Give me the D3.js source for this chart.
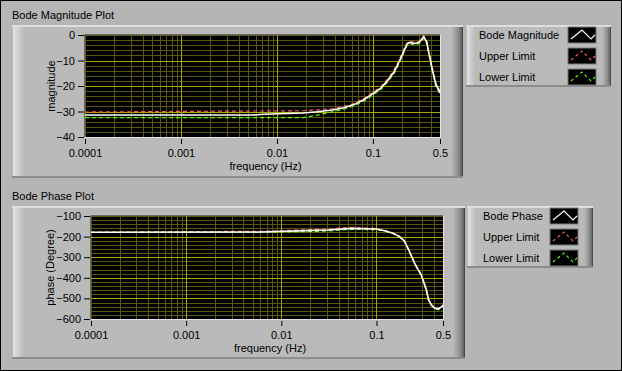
<!DOCTYPE html>
<html>
<head>
<meta charset="utf-8">
<script src="https://cdn.jsdelivr.net/npm/d3@7"></script>
<style>
  html, body { margin: 0; padding: 0; background: #b5b5b5; }
  svg { display: block; font-family: 'Liberation Sans', Arial, sans-serif; }
</style>
</head>
<body>
<svg id="chart" width="622" height="371"></svg>
<script>
// magnitude plot data (dB)
var magFreq  = [0.0001, 0.0056, 0.0072, 0.0188, 0.0264, 0.0379, 0.05, 0.0637, 0.081, 0.1, 0.121, 0.142, 0.167, 0.188, 0.209, 0.224, 0.239, 0.27, 0.304, 0.338, 0.363, 0.387, 0.42, 0.454, 0.492, 0.5]
var magBode  = [-31.4, -31.4, -31.1, -30.6, -30.1, -29.4, -28.5, -27.3, -25.3, -23.0, -20.8, -17.9, -14.3, -10.4, -6.5, -3.9, -2.9, -3.3, -2.9, -0.7, -2.7, -7.8, -14.3, -19.5, -22.0, -22.7]
var magUpper = [-30.2, -29.8, -29.8, -29.7, -29.4, -28.9, -28.0, -26.8, -24.8, -22.5, -20.2, -17.3, -13.6, -9.7, -5.8, -3.3, -2.4, -2.8, -2.4, -0.3, -2.2, -7.0, -13.5, -18.8, -21.3, -22.0]
var magLower = [-32.4, -32.4, -32.4, -32.4, -31.4, -30.1, -29.1, -27.8, -25.9, -23.5, -21.4, -18.5, -15.0, -11.0, -7.1, -4.5, -3.4, -3.8, -3.4, -1.2, -3.3, -8.5, -15.0, -20.2, -22.7, -23.5]

// phase plot data (degree)
var phaseFreq  = [0.0001, 0.0061, 0.0183, 0.0309, 0.0543, 0.0995, 0.122, 0.149, 0.175, 0.197, 0.222, 0.251, 0.274, 0.295, 0.333, 0.352, 0.376, 0.407, 0.449, 0.486, 0.5]
var phaseBode  = [-179, -178, -171, -168, -160, -163, -172, -184, -200, -222, -272, -329, -360, -386, -456, -505, -531, -547, -551, -540, -534]
var phaseUpper = [-179, -174, -167, -163, -155, -160, -170, -182, -198, -220, -270, -326, -357, -383, -452, -502, -528, -544, -548, -537, -531]
var phaseLower = [-179, -179, -176, -173, -165, -166, -174, -186, -202, -224, -274, -332, -363, -389, -460, -509, -534, -550, -555, -543, -537]

var freqTicks = [0.0001, 0.001, 0.01, 0.1, 0.5]
var freqTickLabels = ['0.0001', '0.001', '0.01', '0.1', '0.5']
var magTicks = [0, -10, -20, -30, -40]
var phaseTicks = [-100, -200, -300, -400, -500, -600]
var magLegend = ['Bode Magnitude', 'Upper Limit', 'Lower Limit']
var phaseLegend = ['Bode Phase', 'Upper Limit', 'Lower Limit']

var colors = ['#ffffff', '#ff5a5a', '#55ff00']

var svg = d3.select('#chart')
var defs = svg.append('defs')

function grad(id, stops) {
    var lg = defs.append('linearGradient').attr('id', id)
        .attr('x1', 0).attr('y1', 0).attr('x2', 1).attr('y2', 0)
    stops.forEach(function(s) {
        lg.append('stop').attr('offset', s[0]).attr('stop-color', s[1])
    })
}
grad('gradL', [[0, '#9c9c9c'], [0.12, '#e2e2e2'], [0.45, '#d2d2d2'], [1, '#bababa']])
grad('gradR', [[0, '#bababa'], [0.5, '#969696'], [0.85, '#6e6e6e'], [1, '#383838']])

svg.append('rect').attr('width', 622).attr('height', 371).attr('fill', '#b5b5b5')

function panel(x, y, w, h, strip) {
    var g = svg.append('g')
    g.append('rect').attr('x', x).attr('y', y).attr('width', w).attr('height', h).attr('fill', '#bababa')
    g.append('rect').attr('x', x).attr('y', y).attr('width', strip).attr('height', h).attr('fill', 'url(#gradL)')
    g.append('rect').attr('x', x + w - strip).attr('y', y).attr('width', strip).attr('height', h).attr('fill', 'url(#gradR)')
    g.append('rect').attr('x', x).attr('y', y).attr('width', w).attr('height', 2).attr('fill', '#dedede')
    g.append('rect').attr('x', x).attr('y', y + h - 2).attr('width', w).attr('height', 2).attr('fill', '#8c8c8c')
}

function legend(x, y, swatchX, names) {
    names.forEach(function(name, i) {
        var ry = y + i * 21
        svg.append('text').attr('x', x).attr('y', ry + 12)
            .attr('font-size', '11px').attr('fill', '#000').text(name)
        var sw = svg.append('g').attr('transform', 'translate(' + swatchX + ',' + ry + ')')
        sw.append('rect').attr('width', 28).attr('height', 16).attr('fill', '#000')
            .attr('stroke', '#787878').attr('stroke-width', 1)
        // little zigzag like the LabVIEW plot legend
        sw.append('path').attr('d', 'M3,12 L14,3 L23,12 L27,8')
            .attr('fill', 'none').attr('stroke', colors[i])
            .attr('stroke-width', 1.2)
            .attr('stroke-dasharray', i > 0 ? '3,3' : null)
    })
}

function plot(cfg) {
    var x = d3.scaleLog().domain([0.0001, 0.5]).range([cfg.left, cfg.right])
    var y = d3.scaleLinear().domain(cfg.yDomain).range([cfg.top, cfg.bottom])
    var g = svg.append('g')

    g.append('rect').attr('x', cfg.left).attr('y', cfg.top)
        .attr('width', cfg.right - cfg.left).attr('height', cfg.bottom - cfg.top)
        .attr('fill', '#000')

    // minor grid
    var minorX = x.ticks().filter(function(d) { return [0.001, 0.01, 0.1].indexOf(d) < 0 })
    var minorY = d3.range(cfg.yDomain[1], cfg.yDomain[0] + 0.001, cfg.minor)
    g.selectAll('.mx').data(minorX).enter().append('line')
        .attr('x1', function(d) { return Math.round(x(d)) + 0.5 }).attr('x2', function(d) { return Math.round(x(d)) + 0.5 })
        .attr('y1', cfg.top).attr('y2', cfg.bottom)
        .attr('stroke', '#58580f')
    g.selectAll('.my').data(minorY).enter().append('line')
        .attr('y1', function(d) { return Math.round(y(d)) + 0.5 }).attr('y2', function(d) { return Math.round(y(d)) + 0.5 })
        .attr('x1', cfg.left).attr('x2', cfg.right)
        .attr('stroke', '#58580f')
    // major grid
    g.selectAll('.Mx').data([0.001, 0.01, 0.1]).enter().append('line')
        .attr('x1', function(d) { return Math.round(x(d)) + 0.5 }).attr('x2', function(d) { return Math.round(x(d)) + 0.5 })
        .attr('y1', cfg.top).attr('y2', cfg.bottom)
        .attr('stroke', '#a8a800')
    g.selectAll('.My').data(cfg.ticks.slice(1, -1)).enter().append('line')
        .attr('y1', function(d) { return Math.round(y(d)) + 0.5 }).attr('y2', function(d) { return Math.round(y(d)) + 0.5 })
        .attr('x1', cfg.left).attr('x2', cfg.right)
        .attr('stroke', '#a8a800')

    // curves
    var clip = 'clip' + cfg.id
    defs.append('clipPath').attr('id', clip).append('rect')
        .attr('x', cfg.left).attr('y', cfg.top)
        .attr('width', cfg.right - cfg.left).attr('height', cfg.bottom - cfg.top)
    var series = [
        { v: cfg.upper, color: colors[1], dash: '4,3', w: 1.2 },
        { v: cfg.lower, color: colors[2], dash: '4,3', w: 1.2 },
        { v: cfg.bode, color: colors[0], dash: null, w: 1.6 }
    ]
    var line = d3.line()
        .x(function(d) { return x(d[0]) })
        .y(function(d) { return y(d[1]) })
    var cg = g.append('g').attr('clip-path', 'url(#' + clip + ')')
    series.forEach(function(s) {
        cg.append('path')
            .datum(d3.zip(cfg.freq, s.v))
            .attr('d', line)
            .attr('fill', 'none')
            .attr('stroke', s.color)
            .attr('stroke-width', s.w)
            .attr('stroke-dasharray', s.dash)
    })

    // sunken frame
    g.append('path').attr('d', 'M' + (cfg.left - 0.5) + ',' + (cfg.bottom) + 'V' + (cfg.top - 0.5) + 'H' + cfg.right)
        .attr('fill', 'none').attr('stroke', '#6a6a6a')
    g.append('path').attr('d', 'M' + (cfg.left) + ',' + (cfg.bottom + 0.5) + 'H' + (cfg.right + 0.5) + 'V' + cfg.top)
        .attr('fill', 'none').attr('stroke', '#e4e4e4')

    // axes
    var ya = g.append('g').attr('transform', 'translate(' + (cfg.left - 1) + ',0)')
        .call(d3.axisLeft(y).tickValues(cfg.ticks).tickSize(6).tickPadding(3))
    var xa = g.append('g').attr('transform', 'translate(0,' + (cfg.bottom + 2) + ')')
        .call(d3.axisBottom(x).tickValues(freqTicks).tickSize(5).tickPadding(5)
            .tickFormat(function(d, i) { return freqTickLabels[i] }))
    ;[ya, xa].forEach(function(a) {
        a.select('.domain').remove()
        a.selectAll('line').attr('stroke', '#000')
        a.selectAll('text').attr('font-size', '11px').attr('fill', '#000')
            .attr('font-family', "'Liberation Sans', Arial, sans-serif")
    })

    g.append('text').attr('x', (cfg.left + cfg.right) / 2 + 3).attr('y', cfg.bottom + 33)
        .attr('text-anchor', 'middle').attr('font-size', '11px').text('frequency (Hz)')
    g.append('text')
        .attr('transform', 'translate(' + cfg.ylabelX + ',' + ((cfg.top + cfg.bottom) / 2) + ') rotate(-90)')
        .attr('text-anchor', 'middle').attr('font-size', '11px').text(cfg.ylabel)
}

// top: magnitude
svg.append('text').attr('x', 12).attr('y', 19).attr('font-size', '11px').text('Bode Magnitude Plot')
panel(12, 25, 451, 153, 12)
plot({ id: 'm', left: 85, right: 440, top: 35, bottom: 137, yDomain: [0, -40], minor: 2,
    ticks: magTicks, freq: magFreq, bode: magBode, upper: magUpper, lower: magLower,
    ylabel: 'magnitude', ylabelX: 55 })
panel(466, 25, 145, 62, 9)
legend(479, 27, 568, magLegend)

// bottom: phase
svg.append('text').attr('x', 12).attr('y', 200).attr('font-size', '11px').text('Bode Phase Plot')
panel(12, 206, 453, 153, 12)
plot({ id: 'p', left: 91, right: 443, top: 216, bottom: 319, yDomain: [-100, -600], minor: 20,
    ticks: phaseTicks, freq: phaseFreq, bode: phaseBode, upper: phaseUpper, lower: phaseLower,
    ylabel: 'phase (Degree)', ylabelX: 54 })
panel(467, 206, 126, 62, 9)
legend(483, 208, 550, phaseLegend)

// outer border
svg.append('rect').attr('x', 0.5).attr('y', 0.5).attr('width', 621).attr('height', 370)
    .attr('fill', 'none').attr('stroke', '#000')
</script>
</body>
</html>
